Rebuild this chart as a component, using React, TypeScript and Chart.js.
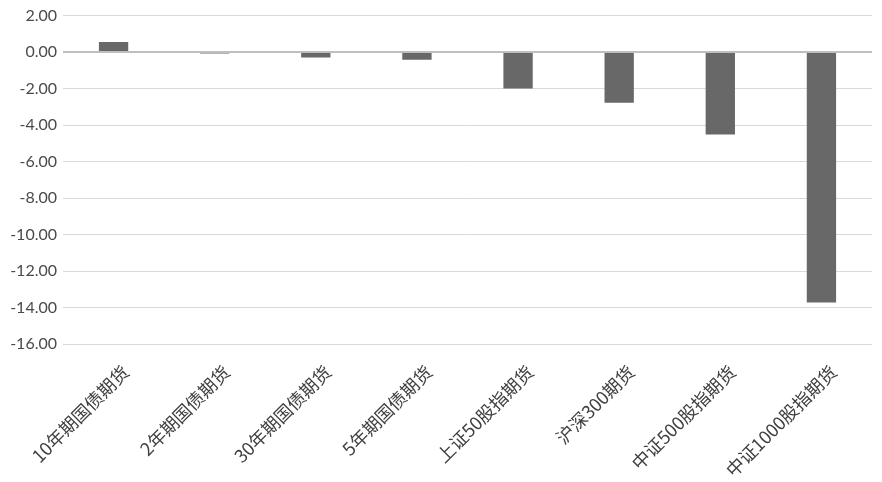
import React, { useEffect, useRef } from "react";
import { Chart, registerables } from "chart.js";

Chart.register(...registerables);

const categories = [
  "10年期国债期货",
  "2年期国债期货",
  "30年期国债期货",
  "5年期国债期货",
  "上证50股指期货",
  "沪深300期货",
  "中证500股指期货",
  "中证1000股指期货",
];
const values = [0.55, -0.08, -0.3, -0.42, -2.0, -2.77, -4.52, -13.73];
const yMin = -16;
const yMax = 2;
const yStep = 2;

export default function App() {
  const ref = useRef<HTMLCanvasElement | null>(null);
  useEffect(() => {
    document.body.style.margin = "0";
    if (!ref.current) return;
    const chart = new Chart(ref.current, {
      type: "bar",
      data: {
        labels: categories,
        datasets: [
          {
            data: values,
            backgroundColor: "#686868",
            borderWidth: 0,
            barPercentage: 0.58,
            categoryPercentage: 0.5,
          },
        ],
      },
      options: {
        animation: false,
        responsive: false,
        maintainAspectRatio: false,
        layout: { padding: { top: 6, right: 10, left: 0, bottom: 0 } },
        plugins: { legend: { display: false }, tooltip: { enabled: false } },
        scales: {
          x: {
            grid: { display: false },
            border: { display: false },
            ticks: {
              maxRotation: 45,
              minRotation: 45,
              autoSkip: false,
              color: "#404040",
              font: { family: "'Noto Sans CJK SC', Lato", size: 18 },
              padding: 9,
              labelOffset: 12,
            },
            afterFit: (s: any) => {
              s.height = 138;
            },
          },
          y: {
            min: yMin,
            max: yMax,
            border: { display: false },
            grid: {
              color: (ctx: any) => (ctx.tick && ctx.tick.value === 0 ? "#bfbfbf" : "#d9d9d9"),
              lineWidth: (ctx: any) => (ctx.tick && ctx.tick.value === 0 ? 2 : 1),
              drawTicks: false,
            },
            ticks: {
              stepSize: yStep,
              color: "#4a4a4a",
              font: { family: "Lato", size: 16 },
              padding: 6,
              callback: (v: any) => Number(v).toFixed(2),
            },
            afterFit: (s: any) => {
              s.width = 63;
            },
          },
        },
      },
    });
    return () => chart.destroy();
  }, []);
  return (
    <div style={{ width: 882, height: 482, background: "#fff" }}>
      <canvas ref={ref} width={882} height={482} style={{ width: 882, height: 482 }} />
    </div>
  );
}
